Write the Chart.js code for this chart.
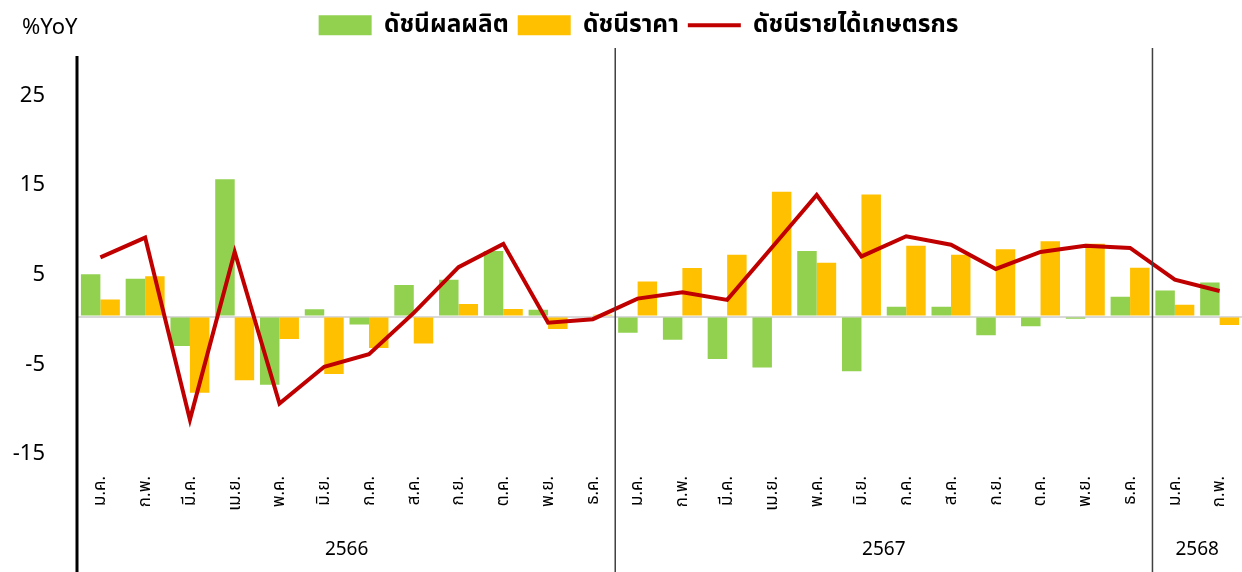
<!DOCTYPE html>
<html>
<head>
<meta charset="utf-8">
<script src="https://cdn.jsdelivr.net/npm/chart.js@4.4.1/dist/chart.umd.min.js"></script>
<style>
  html, body { margin: 0; padding: 0; background: #fff; overflow: hidden; }
  #wrap { position: relative; width: 1242px; height: 572px; }
</style>
</head>
<body>
<div id="wrap"><canvas id="agriChart"></canvas></div>
<script>
const categories = [
    'ม.ค.', 'ก.พ.', 'มี.ค.', 'เม.ย.', 'พ.ค.', 'มิ.ย.', 'ก.ค.', 'ส.ค.', 'ก.ย.', 'ต.ค.', 'พ.ย.', 'ธ.ค.',
    'ม.ค.', 'ก.พ.', 'มี.ค.', 'เม.ย.', 'พ.ค.', 'มิ.ย.', 'ก.ค.', 'ส.ค.', 'ก.ย.', 'ต.ค.', 'พ.ย.', 'ธ.ค.',
    'ม.ค.', 'ก.พ.'
];
const years = ['2566', '2567', '2568'];
const yearMonths = [12, 12, 2];

const production = [4.7, 4.2, -3.3, 15.3, -7.6, 0.8, -0.9, 3.5, 4.1, 7.3, 0.75, -0.1,
    -1.8, -2.6, -4.75, -5.7, 7.3, -6.1, 1.1, 1.1, -2.1, -1.1, -0.25, 2.2,
    2.9, 3.8];
const price = [1.9, 4.5, -8.5, -7.1, -2.5, -6.4, -3.5, -3.0, 1.4, 0.85, -1.4, 0.2,
    3.9, 5.4, 6.9, 13.9, 6.0, 13.6, 7.9, 6.9, 7.5, 8.4, 8.1, 5.45,
    1.3, -0.95];
const income = [6.6, 8.8, -11.5, 7.2, -9.7, -5.6, -4.2, 0.4, 5.5, 8.1, -0.7, -0.3,
    2.0, 2.7, 1.85, 7.7, 13.55, 6.7, 8.95, 8.0, 5.3, 7.2, 7.9, 7.65,
    4.1, 2.85];
const yTicks = [-15, -5, 0, 5, 15, 25];

const FONT = '"Noto Sans", "Noto Sans Thai", sans-serif';

// separators, left axis, year row and unit label
const decorations = {
    id: 'decorations',
    afterLayout(chart) {
        // legend sits a little right of centre in the original
        chart.legend.left += 16;
        chart.legend.right += 16;
    },
    afterDraw(chart) {
        const ctx = chart.ctx;
        const x = chart.scales.x;
        const area = chart.chartArea;
        const half = (x.getPixelForValue(1) - x.getPixelForValue(0)) / 2;
        ctx.save();

        ctx.strokeStyle = '#000';
        ctx.lineWidth = 3;
        ctx.beginPath();
        ctx.moveTo(area.left - 1, 56);
        ctx.lineTo(area.left - 1, 572);
        ctx.stroke();

        ctx.fillStyle = '#000';
        ctx.textAlign = 'center';
        ctx.textBaseline = 'middle';
        ctx.font = '19px ' + FONT;
        let start = 0;
        years.forEach((yr, i) => {
            const end = start + yearMonths[i] - 1;
            const l = x.getPixelForValue(start) - half;
            const r = x.getPixelForValue(end) + half;
            ctx.fillText(yr, (l + r) / 2, 550);
            if (i < years.length - 1) {
                ctx.strokeStyle = '#404040';
                ctx.lineWidth = 1.5;
                ctx.beginPath();
                ctx.moveTo(r, 48);
                ctx.lineTo(r, 572);
                ctx.stroke();
            }
            start = end + 1;
        });

        ctx.textAlign = 'left';
        ctx.font = '22px ' + FONT;
        ctx.fillText('%YoY', 22, 28);
        ctx.restore();
    }
};

const ctx = document.getElementById('agriChart').getContext('2d');
const chart = new Chart(ctx, {
    type: 'bar',
    data: {
        labels: categories,
        datasets: [
            { label: 'ดัชนีผลผลิต', data: production, backgroundColor: '#92D050', order: 2 },
            { label: 'ดัชนีราคา', data: price, backgroundColor: '#FFC000', order: 2 },
            {
                type: 'line', label: 'ดัชนีรายได้เกษตรกร', data: income,
                borderColor: '#C00000', backgroundColor: '#C00000',
                borderWidth: 4, pointRadius: 0, tension: 0, order: 0
            }
        ]
    },
    options: {
        responsive: true,
        maintainAspectRatio: false,
        animation: false,
        layout: { padding: { top: 4, left: 0, right: -3, bottom: 0 } },
        datasets: { bar: { categoryPercentage: 0.87, barPercentage: 1.0 } },
        plugins: {
            tooltip: { enabled: false },
            legend: {
                position: 'top',
                labels: {
                    usePointStyle: true,
                    pointStyleWidth: 53,
                    boxHeight: 20,
                    padding: 9,
                    color: '#000',
                    font: { family: FONT, size: 24.5, weight: 'bold' },
                    generateLabels: c => c.data.datasets.map((ds, i) => ({
                        text: ds.label,
                        fillStyle: ds.type === 'line' ? ds.borderColor : ds.backgroundColor,
                        strokeStyle: ds.type === 'line' ? ds.borderColor : ds.backgroundColor,
                        lineWidth: ds.type === 'line' ? 4 : 0,
                        pointStyle: ds.type === 'line' ? 'line' : 'rect',
                        fontColor: '#000',
                        hidden: false,
                        datasetIndex: i
                    }))
                }
            }
        },
        scales: {
            x: {
                grid: { display: false },
                border: { display: false },
                ticks: {
                    autoSkip: false,
                    maxRotation: 90,
                    minRotation: 90,
                    padding: 17,
                    color: '#000',
                    font: { family: FONT, size: 17 }
                },
                afterFit: s => {
                    s.height = 121;
                    s.paddingLeft = 0;
                    s.paddingRight = 0;
                }
            },
            y: {
                min: -15,
                max: 30,
                afterBuildTicks: s => { s.ticks = yTicks.map(v => ({ value: v })); },
                border: { display: false },
                grid: {
                    drawTicks: false,
                    lineWidth: 2,
                    color: c => c.tick && c.tick.value === 0 ? '#d9d9d9' : 'rgba(0,0,0,0)'
                },
                ticks: {
                    padding: 33,
                    labelOffset: 3,
                    color: '#000',
                    font: { family: FONT, size: 22 },
                    callback: v => v === 0 ? '' : v
                },
                afterFit: s => { s.width = 78; }
            }
        }
    },
    plugins: [decorations]
});
</script>
</body>
</html>
